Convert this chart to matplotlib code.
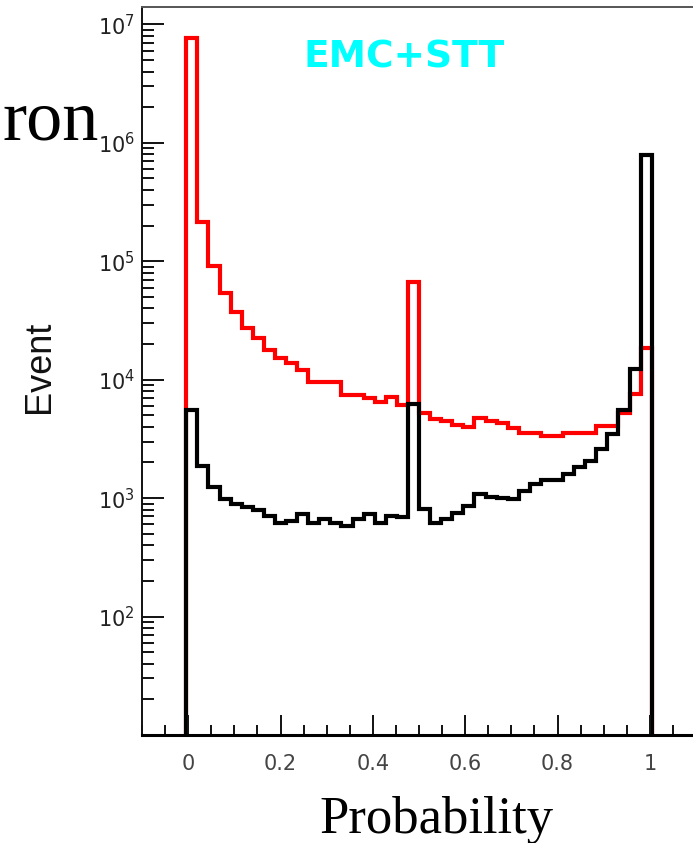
import numpy as np
import matplotlib
matplotlib.use("Agg")
import matplotlib.pyplot as plt
from matplotlib.ticker import (FixedLocator, FixedFormatter, LogLocator,
                               MultipleLocator, NullFormatter)

plt.rcParams['mathtext.fontset'] = 'dejavusans'
plt.rcParams['font.family'] = ['DejaVu Sans']

# ---------------- data ----------------
bin_edges = np.linspace(-0.1, 1.1, 51)   # 50 bins of width 0.024
first_bin = 4                            # first non-empty bin index

red_counts = [7.6e6, 2.15e5, 9.1e4, 5.37e4, 3.76e4, 2.72e4, 2.24e4, 1.78e4,
              1.52e4, 1.38e4, 1.21e4, 9.6e3, 9.6e3, 9.6e3, 7.45e3, 7.45e3,
              6.98e3, 6.53e3, 7.2e3, 6.1e3, 6.65e4, 5.2e3, 4.64e3, 4.44e3,
              4.16e3, 4.02e3, 4.73e3, 4.44e3, 4.3e3, 3.9e3, 3.55e3, 3.55e3,
              3.36e3, 3.36e3, 3.52e3, 3.52e3, 3.52e3, 4.03e3, 4.03e3, 5.2e3,
              7.6e3, 1.85e4]

black_counts = [5.56e3, 1.87e3, 1.24e3, 975, 895, 837, 797, 700,
                611, 641, 733, 611, 660, 611, 583, 660,
                733, 611, 705, 697, 6.25e3, 807, 615, 660,
                742, 855, 1.075e3, 1.03e3, 1.0e3, 975, 1.14e3, 1.31e3,
                1.43e3, 1.43e3, 1.61e3, 1.82e3, 2.04e3, 2.62e3, 3.5e3, 5.5e3,
                1.22e4, 7.9e5]

x_ticks = [0, 0.2, 0.4, 0.6, 0.8, 1.0]
x_tick_labels = ['0', '0.2', '0.4', '0.6', '0.8', '1']
y_ticks = [1e2, 1e3, 1e4, 1e5, 1e6, 1e7]
y_tick_labels = [r'$10^{2}$', r'$10^{3}$', r'$10^{4}$', r'$10^{5}$',
                 r'$10^{6}$', r'$10^{7}$']

title_text = 'EMC+STT'
x_label = 'Probability'
y_label = 'Event'
corner_text = 'ron'

# ---------------- figure ----------------
W, H = 693, 843
fig = plt.figure(figsize=(W / 100, H / 100), dpi=100)
fig.patch.set_facecolor('white')

ax_left, ax_bottom, ax_top = 142, 735, 6.7
ax = fig.add_axes([ax_left / W, 1 - ax_bottom / H,
                   1 - ax_left / W, (ax_bottom - ax_top) / H])

edges_used = bin_edges[first_bin:first_bin + len(red_counts) + 1]
p_red = ax.stairs(red_counts, edges_used, baseline=1, color='#ff0000',
                  linewidth=3.0)
p_blk = ax.stairs(black_counts, edges_used, baseline=1, color='#000000',
                  linewidth=3.0)
for p in (p_red, p_blk):
    p.set_joinstyle('miter')
    p.set_capstyle('butt')

ax.set_yscale('log')
ax.set_ylim(10, 1.41e7)
ax.set_xlim(-0.1, -0.1 + (W - ax_left) / 461.7)

ax.xaxis.set_major_locator(FixedLocator(x_ticks))
ax.xaxis.set_major_formatter(FixedFormatter(x_tick_labels))
ax.xaxis.set_minor_locator(MultipleLocator(0.05))
ax.yaxis.set_major_locator(FixedLocator(y_ticks))
ax.yaxis.set_major_formatter(FixedFormatter(y_tick_labels))
ax.yaxis.set_minor_locator(LogLocator(base=10, subs=np.arange(2, 10)))
ax.yaxis.set_minor_formatter(NullFormatter())

ax.tick_params(axis='x', which='major', direction='in', length=14.4,
               width=1.4, pad=14, labelsize=15, labelcolor='#444444',
               top=False, color='#111111')
ax.tick_params(axis='x', which='minor', direction='in', length=7.2,
               width=1.4, top=False, color='#111111')
ax.tick_params(axis='y', which='major', direction='in', length=15.5,
               width=1.4, pad=5, labelsize=15, labelcolor='#222222',
               right=False, color='#111111')
ax.tick_params(axis='y', which='minor', direction='in', length=8.6,
               width=1.4, right=False, color='#111111')

ax.spines['right'].set_visible(False)
ax.spines['left'].set_linewidth(1.4)
ax.spines['left'].set_color('#111111')
ax.spines['bottom'].set_linewidth(2.2)
ax.spines['bottom'].set_color('#000000')
ax.spines['top'].set_linewidth(1.4)
ax.spines['top'].set_color('#555555')

# ---------------- texts ----------------
fig.text(404 / W, 1 - 67 / H, title_text, color='#00ffff', fontsize=27,
         fontweight='bold', family=['DejaVu Sans'], ha='center',
         va='baseline')
fig.text(40 / W, 1 - 367 / H, y_label, rotation=90, fontsize=26,
         family=['Liberation Sans'], ha='center', va='center',
         color='#111111')
fig.text(436.5 / W, 1 - 833 / H, x_label, fontsize=38,
         family=['Liberation Serif'], ha='center', va='baseline',
         color='black')
fig.text(2 / W, 1 - 140 / H, corner_text, fontsize=52,
         family=['Liberation Serif'], ha='left', va='baseline',
         color='black')

fig.savefig('out.png', dpi=100, facecolor='white')
